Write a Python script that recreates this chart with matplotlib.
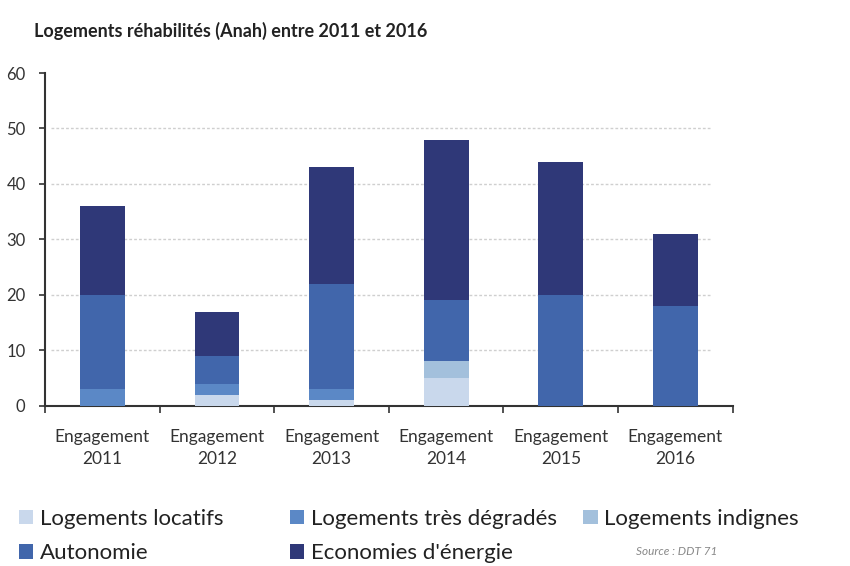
import matplotlib.pyplot as plt
from matplotlib.patches import Patch
import numpy as np

plt.rcParams['font.family'] = ['Lato', 'DejaVu Sans']

years = ['2011', '2012', '2013', '2014', '2015', '2016']
categories = ['Engagement\n' + y for y in years]

locatifs = [0, 2, 1, 5, 0, 0]
tres_degrades = [3, 2, 2, 0, 0, 0]
indignes = [0, 0, 0, 3, 0, 0]
autonomie = [17, 5, 19, 11, 20, 18]
energie = [16, 8, 21, 29, 24, 13]

series = [
    ('Logements locatifs', locatifs, '#c9d8ec'),
    ('Logements très dégradés', tres_degrades, '#5b88c6'),
    ('Logements indignes', indignes, '#a3c0dc'),
    ('Autonomie', autonomie, '#4166ab'),
    ("Economies d'énergie", energie, '#2f3878'),
]

fig = plt.figure(figsize=(8.5, 5.66), dpi=100)
ax = fig.add_axes([0.053, 0.283, 0.809, 0.588])

x = np.arange(len(categories))
bottom = np.zeros(len(categories))
for name, vals, col in series:
    ax.bar(x, vals, 0.39, bottom=bottom, color=col, label=name, zorder=3)
    bottom += np.array(vals)

ax.set_xlim(-0.5, len(categories) - 0.5)
ax.set_ylim(0, 60)
ax.set_yticks(range(0, 61, 10))
for y in range(10, 60, 10):
    ax.plot([-0.45, 5.3], [y, y], color='#cfcfcf', linestyle=(0, (2, 1.5)),
            linewidth=1.0, zorder=1)

ax.set_xticks(x)
ax.set_xticklabels(categories, fontsize=12.5, color='#333333', linespacing=1.45)
ax.tick_params(axis='x', length=0, pad=17)
ax.set_xticks(np.arange(-0.5, len(categories), 1), minor=True)
ax.tick_params(axis='x', which='minor', length=5, width=1.2, color='#333333', direction='out')
ax.tick_params(axis='y', length=4, width=1.2, color='#333333', labelsize=12,
               labelcolor='#333333', pad=10)

for s in ['top', 'right']:
    ax.spines[s].set_visible(False)
for s in ['left', 'bottom']:
    ax.spines[s].set_linewidth(1.5)
    ax.spines[s].set_color('#333333')

fig.text(0.04, 0.945, 'Logements réhabilités (Anah) entre 2011 et 2016',
         fontsize=13, fontweight='bold', color='#222222', va='center')

# legend: three columns placed by hand
handles = {name: Patch(facecolor=col) for name, vals, col in series}
columns = [
    (0.022, ['Logements locatifs', 'Autonomie']),
    (0.341, ['Logements très dégradés', "Economies d'énergie"]),
    (0.686, ['Logements indignes']),
]
for x0, names in columns:
    leg = fig.legend([handles[n] for n in names], names, loc='upper left',
                     bbox_to_anchor=(x0, 0.101), frameon=False, fontsize=16,
                     handlelength=0.65, handleheight=0.65, handletextpad=0.3,
                     labelspacing=0.65, labelcolor='#222222',
                     borderpad=0, borderaxespad=0)

fig.text(0.748, 0.025, 'Source : DDT 71', fontsize=8.5, style='italic',
         color='#888888', va='center')

fig.savefig('out.png', dpi=100)
